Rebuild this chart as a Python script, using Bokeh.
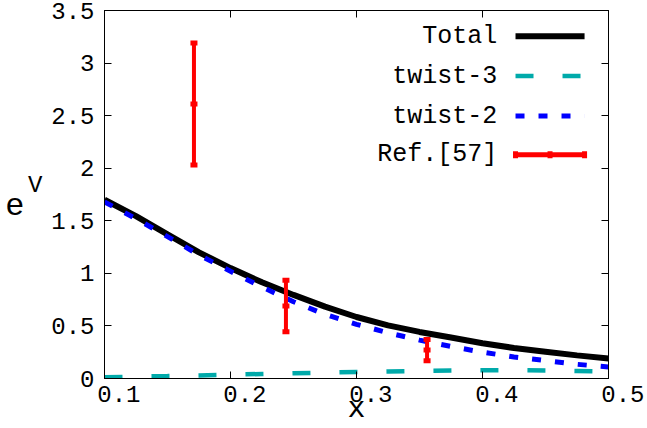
from bokeh.plotting import figure
from bokeh.models import Label, LinearAxis, Range1d, FixedTicker, CustomJSTickFormatter
from bokeh.embed import file_html
from bokeh.resources import INLINE

# ---- data ----
x_grid = [0.1, 0.125, 0.15, 0.175, 0.2, 0.225, 0.25, 0.275, 0.3, 0.325,
          0.35, 0.375, 0.4, 0.425, 0.45, 0.475, 0.5]
total = [1.70, 1.545, 1.37, 1.20, 1.05, 0.915, 0.795, 0.684, 0.585, 0.505,
         0.443, 0.39, 0.335, 0.29, 0.255, 0.22, 0.19]
twist2 = [1.68, 1.52, 1.35, 1.175, 1.02, 0.87, 0.73, 0.61, 0.515, 0.435,
          0.365, 0.305, 0.25, 0.205, 0.17, 0.135, 0.11]
twist3 = [0.012, 0.018, 0.023, 0.029, 0.036, 0.043, 0.05, 0.056, 0.062, 0.067,
          0.072, 0.076, 0.078, 0.079, 0.076, 0.071, 0.065]
ref_x = [0.171, 0.244, 0.356]
ref_y = [2.61, 0.69, 0.27]
ref_err = [0.58, 0.245, 0.10]

x_ticks = [0.1, 0.2, 0.3, 0.4, 0.5]
x_tick_labels = ["0.1", "0.2", "0.3", "0.4", "0.5"]
y_ticks = [0, 0.5, 1, 1.5, 2, 2.5, 3, 3.5]
y_tick_labels = ["0", "0.5", "1", "1.5", "2", "2.5", "3", "3.5"]

series_names = ["Total", "twist-3", "twist-2", "Ref.[57]"]
colors = ["#000000", "#00AAAA", "#0000FF", "#FF0000"]

FONT = "Liberation Mono"

W, H = 647, 428
p = figure(width=W, height=H, output_backend="svg", toolbar_location=None,
           x_range=Range1d(0.1, 0.5), y_range=Range1d(0, 3.5),
           min_border_left=104, min_border_right=39, min_border_top=10,
           min_border_bottom=50)
p.background_fill_color = "white"
p.border_fill_color = "white"
p.outline_line_color = "black"
p.outline_line_width = 1
p.xgrid.visible = False
p.ygrid.visible = False

empty = CustomJSTickFormatter(code="return ''")

# bottom axis: gnuplot draws the tick labels a bit right of the tick
NB = "\u00a0\u00a0"
p.xaxis.ticker = FixedTicker(ticks=x_ticks)
p.xaxis.major_label_overrides = {t: NB + l for t, l in zip(x_ticks, x_tick_labels)}
p.xaxis.major_label_text_font = FONT
p.xaxis.major_label_text_font_size = "24px"
p.xaxis.major_label_text_color = "black"
p.xaxis.major_label_standoff = 3
p.xaxis.major_tick_in = 7
p.xaxis.major_tick_out = 0
p.xaxis.minor_tick_line_color = None
p.xaxis.axis_line_color = "black"
p.xaxis.axis_label = "x"
p.xaxis.axis_label_text_font = FONT
p.xaxis.axis_label_text_font_size = "30px"
p.xaxis.axis_label_text_font_style = "normal"
p.xaxis.axis_label_text_color = "black"
p.xaxis.axis_label_standoff = -20

# left axis
p.yaxis.ticker = FixedTicker(ticks=y_ticks)
p.yaxis.major_label_overrides = {t: l for t, l in zip(y_ticks, y_tick_labels)}
p.yaxis.major_label_text_font = FONT
p.yaxis.major_label_text_font_size = "24px"
p.yaxis.major_label_text_color = "black"
p.yaxis.major_label_standoff = 10
p.yaxis.major_tick_in = 7
p.yaxis.major_tick_out = 0
p.yaxis.minor_tick_line_color = None
p.yaxis.axis_line_color = "black"

# y-axis title e^V built from two label-only axes (V nearer the frame)
v_axis = LinearAxis(ticker=FixedTicker(ticks=[1.836]),
                    formatter=CustomJSTickFormatter(code="return 'V'"),
                    major_label_text_font=FONT, major_label_text_font_size="24px",
                    major_label_text_color="black", major_label_standoff=6,
                    major_tick_in=0, major_tick_out=0, major_tick_line_color=None,
                    minor_tick_line_color=None, axis_line_color=None)
e_axis = LinearAxis(ticker=FixedTicker(ticks=[1.657]),
                    formatter=CustomJSTickFormatter(code="return 'e'"),
                    major_label_text_font=FONT, major_label_text_font_size="32px",
                    major_label_text_color="black", major_label_standoff=1,
                    major_tick_in=0, major_tick_out=0, major_tick_line_color=None,
                    minor_tick_line_color=None, axis_line_color=None)
p.add_layout(v_axis, "left")
p.add_layout(e_axis, "left")

# mirrored axes (ticks only)
top = LinearAxis(ticker=FixedTicker(ticks=x_ticks), formatter=empty,
                 major_label_text_font_size="1px", major_label_standoff=0,
                 major_tick_in=7, major_tick_out=0, minor_tick_line_color=None)
right = LinearAxis(ticker=FixedTicker(ticks=y_ticks), formatter=empty,
                   major_label_text_font_size="1px", major_label_standoff=0,
                   major_tick_in=7, major_tick_out=0, minor_tick_line_color=None)
p.add_layout(top, "above")
p.add_layout(right, "right")

# ---- curves ----
p.line(x_grid, total, line_color=colors[0], line_width=6)
p.line(x_grid, twist3, line_color=colors[1], line_width=4.5, line_dash="18 29")
p.line(x_grid, twist2, line_color=colors[2], line_width=5, line_dash="9 14")

# ---- error bars ----
lo = [y - e for y, e in zip(ref_y, ref_err)]
hi = [y + e for y, e in zip(ref_y, ref_err)]
p.segment(x0=ref_x, y0=lo, x1=ref_x, y1=hi, line_color=colors[3], line_width=4)
for ys in (lo, hi, ref_y):
    p.rect(x=ref_x, y=ys, width=7, height=5, width_units="screen",
           height_units="screen", fill_color=colors[3], line_color=None)

# ---- legend (text right-aligned, sample to the right) ----
leg_y = [3.256, 2.876, 2.496, 2.128]
text_x = 0.4117
s0, s1 = 0.4262, 0.481
for name, c, yy, k in zip(series_names, colors, leg_y, range(4)):
    p.add_layout(Label(x=text_x, y=yy, text=name, text_align="right",
                       text_baseline="middle", text_font=FONT,
                       text_font_size="25px", text_color="black"))
    if k == 0:
        p.line([s0, s1], [yy, yy], line_color=c, line_width=6)
    elif k == 1:
        p.line([s0, s1], [yy, yy], line_color=c, line_width=4.5, line_dash="18 29")
    elif k == 2:
        p.line([s0, s1], [yy, yy], line_color=c, line_width=5, line_dash="9 14")
    else:
        p.line([s0, s1], [yy, yy], line_color=c, line_width=5)
        p.rect(x=[s0, (s0 + s1) / 2, s1], y=[yy] * 3, width=5, height=7,
               width_units="screen", height_units="screen",
               fill_color=c, line_color=None)

open("out.html", "w").write(file_html(p, INLINE))
